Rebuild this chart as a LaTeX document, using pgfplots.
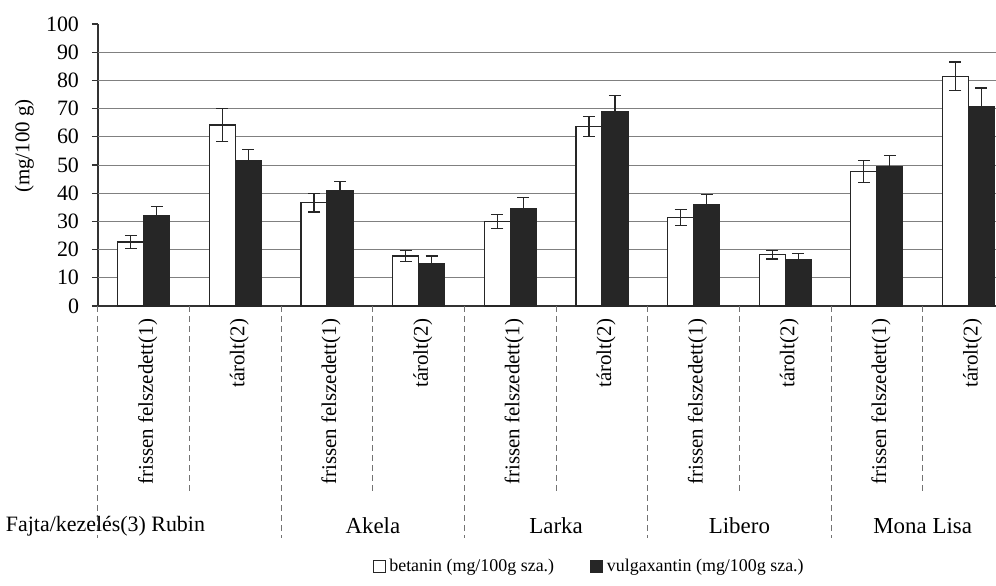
\documentclass[border=0pt]{standalone}
\usepackage{pgfplots}
\pgfplotsset{compat=1.18}
\usepackage{fontspec}
\setmainfont{Liberation Serif}

% betanin and vulgaxantin, mg/100 g, with error (+-)
\begin{document}
\begin{tikzpicture}
\begin{axis}[
    scale only axis,
    width=449bp, height=141bp,
    xmin=-0.5, xmax=9.3,
    ymin=0, ymax=100,
    axis x line*=bottom, axis y line*=left,
    axis line style={black!80, line width=0.6pt},
    ytick={0,10,...,100},
    ytick align=outside, major tick length=3bp,
    ytick style={black!80, line width=0.6pt},
    yticklabel style={font=\fontsize{11}{13}\selectfont, xshift=-3bp},
    /pgf/number format/assume math mode=true,
    extra y ticks={10,20,...,90},
    extra y tick labels={},
    extra y tick style={grid=major, tick style={draw=none}},
    major grid style={black!50, line width=0.5pt},
    xtick={0,...,9},
    xtick style={draw=none},
    xticklabels={frissen felszedett(1), tárolt(2), frissen felszedett(1), tárolt(2),
      frissen felszedett(1), tárolt(2), frissen felszedett(1), tárolt(2),
      frissen felszedett(1), tárolt(2)},
    xticklabel style={rotate=90, anchor=east, font=\fontsize{10.5}{12}\selectfont, yshift=-2bp},
    ylabel={(mg/100 g)},
    ylabel style={at={(axis description cs:-0.082,0.567)}, anchor=center, rotate=0,
      font=\fontsize{10.5}{12}\selectfont},
    ybar=0pt, bar width=13bp,
    clip=false,
    error bars/y dir=both, error bars/y explicit,
    error bars/error bar style={black!85, line width=0.6pt},
    error bars/error mark options={rotate=90, mark size=3bp, line width=0.6pt},
    legend columns=2,
    legend style={draw=none, fill=none, at={(0.548,-0.925)}, anchor=center,
      font=\fontsize{9}{11}\selectfont,
      /tikz/every odd column/.append style={column sep=0bp},
      /tikz/every even column/.append style={column sep=16bp}},
    legend image code/.code={\draw[#1, line width=0.4pt] (0bp,-3bp) rectangle (6bp,3bp);},
    every axis plot/.append style={line width=0.6pt},
]
\addplot[fill=white, draw=black!85] coordinates {
    (0,22.7) +- (0,2.4)
    (1,64.2) +- (0,5.8)
    (2,36.6) +- (0,3.3)
    (3,17.7) +- (0,2.0)
    (4,29.9) +- (0,2.5)
    (5,63.7) +- (0,3.5)
    (6,31.4) +- (0,2.8)
    (7,18.2) +- (0,1.5)
    (8,47.7) +- (0,4.0)
    (9,81.5) +- (0,5.0)
};
\addplot[fill=black!85, draw=black!85] coordinates {
    (0,31.9) +- (0,3.3)
    (1,51.6) +- (0,4.0)
    (2,41.1) +- (0,3.0)
    (3,15.0) +- (0,2.7)
    (4,34.4) +- (0,4.0)
    (5,69.0) +- (0,5.7)
    (6,35.8) +- (0,3.7)
    (7,16.6) +- (0,1.9)
    (8,49.5) +- (0,4.0)
    (9,70.6) +- (0,6.7)
};
\legend{betanin (mg/100g sza.), vulgaxantin (mg/100g sza.)}

% separators under the category axis
\pgfplotsinvokeforeach{-0.5,1.5,3.5,5.5,7.5}{
  \draw[black!55, densely dashed, line width=0.5pt] (axis cs:#1,0) -- ++(0bp,-116bp);
}
\pgfplotsinvokeforeach{0.5,2.5,4.5,6.5,8.5}{
  \draw[black!55, densely dashed, line width=0.5pt] (axis cs:#1,0) -- ++(0bp,-94bp);
}

% variety names
\node[anchor=east, xshift=57bp, yshift=-110bp, font=\fontsize{11}{13}\selectfont] at (axis cs:-0.5,0) {Fajta/kezelés(3) Rubin};
\node[yshift=-110bp, font=\fontsize{11.5}{13}\selectfont] at (axis cs:2.5,0) {Akela};
\node[yshift=-110bp, font=\fontsize{11.5}{13}\selectfont] at (axis cs:4.5,0) {Larka};
\node[yshift=-110bp, font=\fontsize{11.5}{13}\selectfont] at (axis cs:6.5,0) {Libero};
\node[yshift=-110bp, font=\fontsize{11.5}{13}\selectfont] at (axis cs:8.5,0) {Mona Lisa};
\end{axis}
\pgfresetboundingbox
\path[use as bounding box] (-49bp,-140bp) rectangle (449bp,153bp);
\end{tikzpicture}
\end{document}
